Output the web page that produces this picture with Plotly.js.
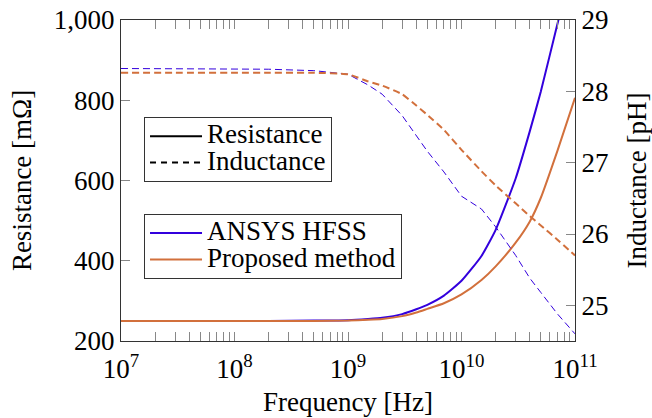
<!DOCTYPE html>
<html>
<head>
<meta charset="utf-8">
<script src="https://cdn.plot.ly/plotly-3.0.1.min.js"></script>
<style>html,body{margin:0;padding:0;background:#fff;}#chart{width:652px;height:418px;}</style>
</head>
<body>
<div id="chart"></div>
<script>
// Frequency grid [Hz]
const freq = [1e7, 3e7, 1e8, 2e8, 5e8, 1e9, 1.5e9, 2e9, 3e9, 4e9, 5e9, 7e9, 1e10, 1.5e10, 2e10, 3e10, 4e10, 5e10, 7e10, 1e11];
// Resistance [mOhm]
const resHFSS     = [250, 250, 250, 250, 251, 252, 255, 258, 267, 279, 290, 313, 350, 412, 477, 605, 723, 822, 990, 1165];
const resProposed = [250, 250, 250, 250, 250, 251, 253, 255, 262, 271, 280, 294, 316, 352, 386, 445, 498, 557, 674, 806];
// Inductance [pH]
const indHFSS     = [28.32, 28.32, 28.32, 28.31, 28.29, 28.24, 28.09, 27.96, 27.66, 27.37, 27.16, 26.87, 26.53, 26.35, 26.10, 25.70, 25.38, 25.18, 24.88, 24.60];
const indProposed = [28.26, 28.26, 28.26, 28.26, 28.26, 28.24, 28.14, 28.08, 27.96, 27.80, 27.67, 27.46, 27.18, 26.88, 26.68, 26.43, 26.25, 26.12, 25.92, 25.70];
// Tick labels
const xTickVals = [1e7, 1e8, 1e9, 1e10, 1e11];
const xTickText = ['10<sup>7</sup>', '10<sup>8</sup>', '10<sup>9</sup>', '10<sup>10</sup>', '10<sup>11</sup>'];
const yTickVals = [200, 400, 600, 800, 1000];
const y2TickVals = [25, 26, 27, 28, 29];
// Legend labels
const seriesNames = ['ANSYS HFSS', 'Proposed method'];
const quantityNames = ['Resistance', 'Inductance'];

const BLUE = '#3300dd';
const ORANGE = '#d2703c';
const FONT = 'Liberation Serif, Times New Roman, serif';
const FS = 27;
const DASH = '7px,4px';
const big = s => '<span style="font-size:' + FS + 'px">' + s + '</span>';

const traces = [
  {x: freq, y: resHFSS, type: 'scatter', mode: 'lines', name: big(seriesNames[0]), legend: 'legend2',
   line: {color: BLUE, width: 2, shape: 'spline', smoothing: 0.5}},
  {x: freq, y: resProposed, type: 'scatter', mode: 'lines', name: big(seriesNames[1]), legend: 'legend2',
   line: {color: ORANGE, width: 2, shape: 'spline', smoothing: 0.5}},
  {x: freq, y: indHFSS, type: 'scatter', mode: 'lines', yaxis: 'y2', showlegend: false,
   line: {color: BLUE, width: 1, dash: DASH}},
  {x: freq, y: indProposed, type: 'scatter', mode: 'lines', yaxis: 'y2', showlegend: false,
   line: {color: ORANGE, width: 2, dash: DASH, shape: 'spline', smoothing: 0.4}},
  {x: [null], y: [null], type: 'scatter', mode: 'lines', name: big(quantityNames[0]), legend: 'legend',
   line: {color: '#000', width: 2}},
  {x: [null], y: [null], type: 'scatter', mode: 'lines', name: big(quantityNames[1]), legend: 'legend',
   line: {color: '#000', width: 2, dash: '6px,5px'}}
];

const legendBase = {
  xanchor: 'left', yanchor: 'top',
  bgcolor: '#fff', bordercolor: '#333', borderwidth: 1,
  font: {family: FONT, size: 18, color: '#000'}, tracegroupgap: 0, itemwidth: 52
};

const layout = {
  width: 652, height: 418,
  margin: {l: 121, r: 77, t: 20, b: 77},
  paper_bgcolor: '#fff', plot_bgcolor: '#fff',
  font: {family: FONT, size: FS, color: '#000'},
  showlegend: true,
  xaxis: {
    type: 'log', range: [7, 11],
    tickmode: 'array', tickvals: xTickVals, ticktext: xTickText,
    ticks: 'inside', ticklen: 9, tickcolor: '#888', tickwidth: 1,
    minor: {dtick: 'D1', ticks: 'inside', ticklen: 6, tickcolor: '#888', showgrid: false},
    showline: true, linecolor: '#333', linewidth: 1, mirror: 'allticks',
    showgrid: false, zeroline: false, ticklabelstandoff: 4,
    title: {text: 'Frequency [Hz]', standoff: 8, font: {size: FS}}
  },
  yaxis: {
    range: [200, 1000], tickmode: 'array', tickvals: yTickVals, tickformat: ',d',
    ticks: 'inside', ticklen: 9, tickcolor: '#888',
    showline: true, linecolor: '#333', linewidth: 1, mirror: false,
    showgrid: false, zeroline: false,
    title: {text: 'Resistance [mΩ]', standoff: 14, font: {size: FS}}
  },
  yaxis2: {
    overlaying: 'y', side: 'right', range: [24.5, 29],
    tickmode: 'array', tickvals: y2TickVals,
    ticks: 'inside', ticklen: 9, tickcolor: '#888',
    showline: true, linecolor: '#333', linewidth: 1,
    showgrid: false, zeroline: false,
    title: {text: 'Inductance [pH]', font: {size: FS}}
  },
  legend: Object.assign({x: 0.0507, y: 0.698}, legendBase),
  legend2: Object.assign({x: 0.0507, y: 0.396}, legendBase)
};

Plotly.newPlot('chart', traces, layout, {displayModeBar: false, staticPlot: true});
</script>
</body>
</html>
